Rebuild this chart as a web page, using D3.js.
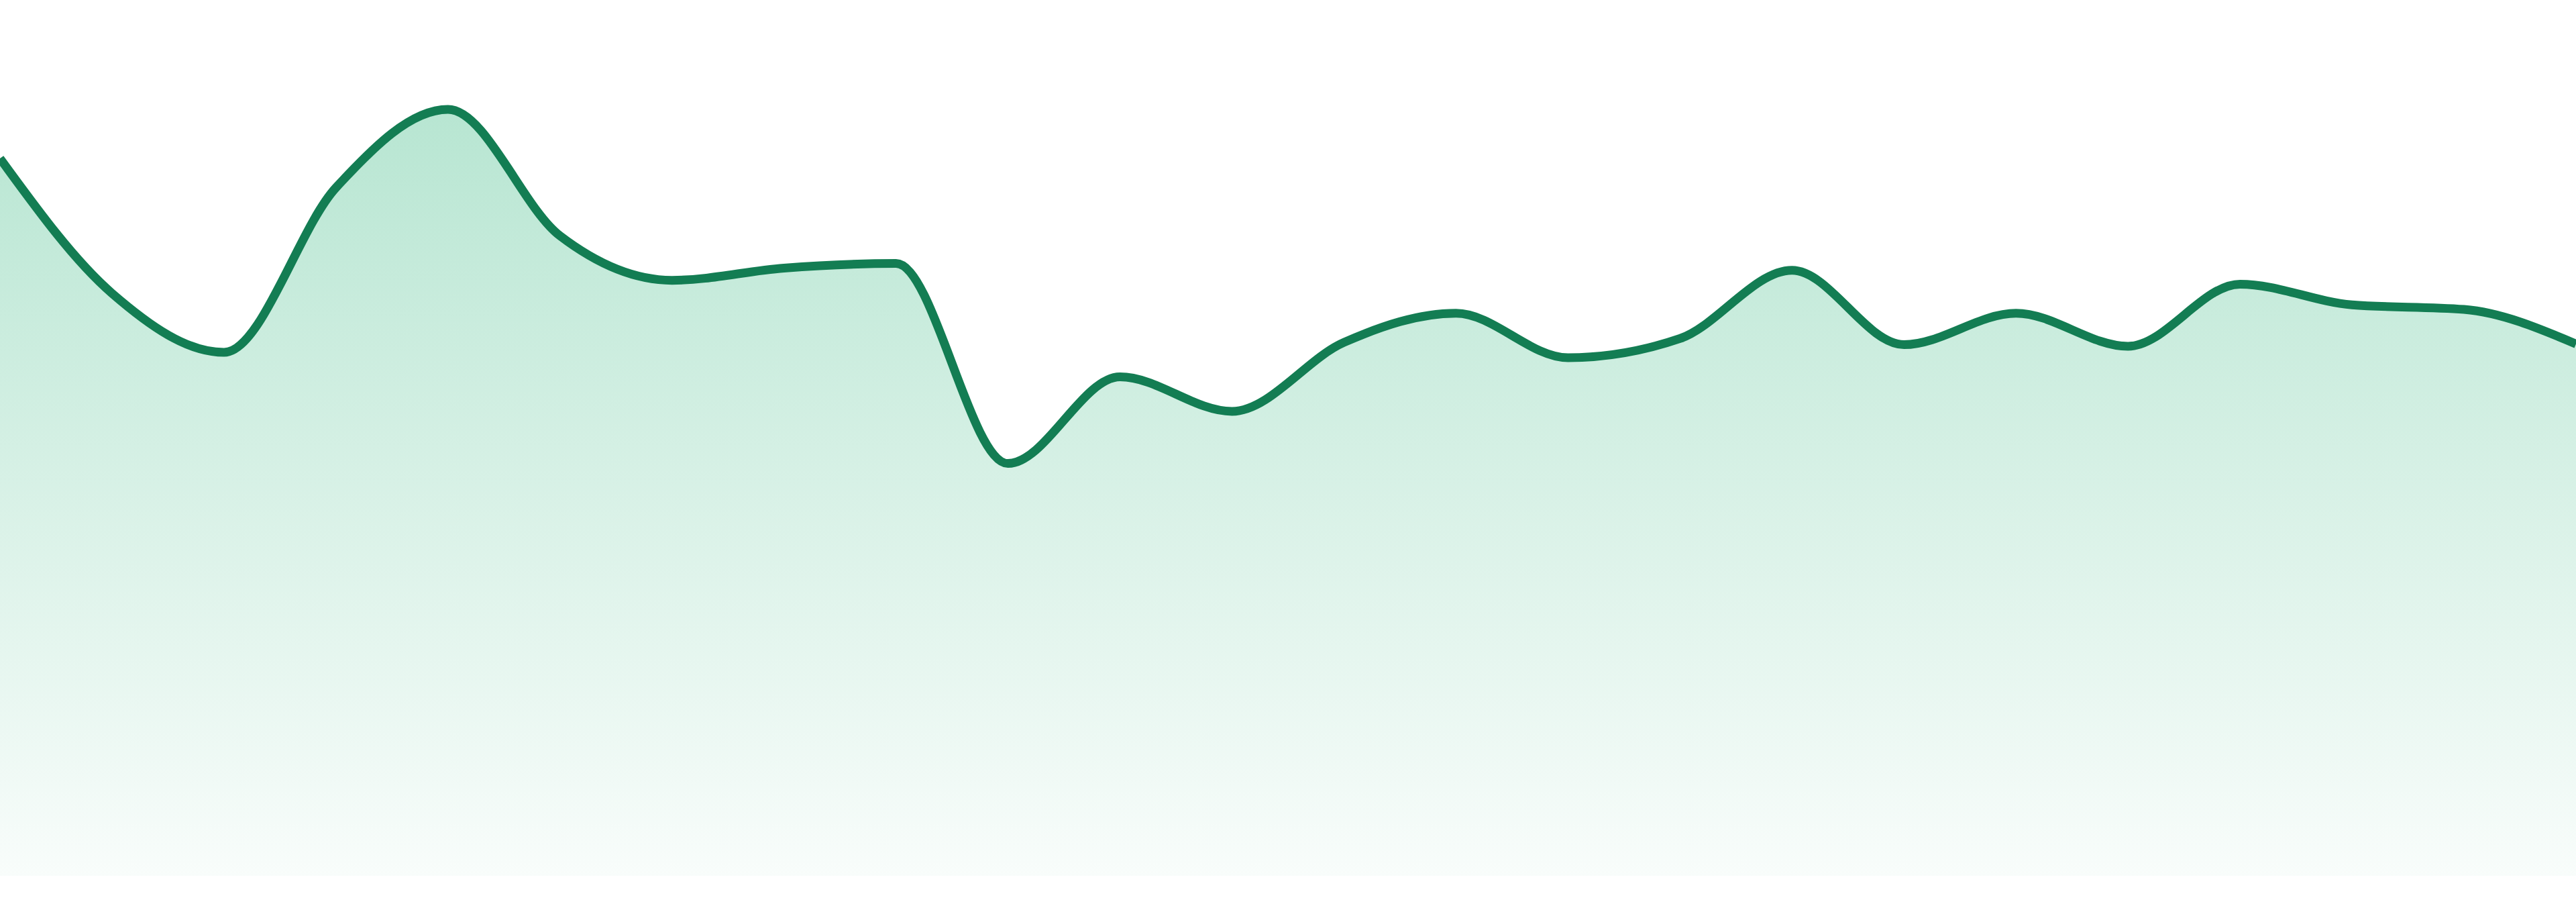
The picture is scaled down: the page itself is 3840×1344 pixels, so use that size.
<!DOCTYPE html>
<html>
<head>
<meta charset="utf-8">
<script src="https://cdn.jsdelivr.net/npm/d3@7"></script>
<style>
  html, body { margin: 0; padding: 0; background: #ffffff; }
  svg { display: block; }
</style>
</head>
<body>
<svg id="chart" width="3840" height="1344"></svg>
<script>
// Data (arbitrary units, no axes shown)
const categories = d3.range(24).map(i => "P" + (i + 1));
const values = [93.6, 76.0, 68.3, 89.8, 100.0, 83.5, 77.7, 79.3, 79.9, 53.8, 65.1, 60.6,
                 69.6, 73.4, 67.6, 70.1, 79.0, 69.3, 73.4, 69.1, 77.2, 74.5, 73.9, 69.4];
const yDomain = [0, 100];

const W = 3840, H = 1344;
const margin = { top: 163, right: 0, bottom: 39, left: 0 };

const svg = d3.select("#chart");

const x = d3.scalePoint()
  .domain(categories)
  .range([margin.left, W - margin.right]);

const y = d3.scaleLinear()
  .domain(yDomain)
  .range([H - margin.bottom, margin.top]);

const data = categories.map((c, i) => ({ c, v: values[i] }));

const defs = svg.append("defs");
const grad = defs.append("linearGradient")
  .attr("id", "areaGrad")
  .attr("x1", 0).attr("y1", 0).attr("x2", 0).attr("y2", 1);
grad.append("stop").attr("offset", "0%").attr("stop-color", "#26b276").attr("stop-opacity", 0.33);
grad.append("stop").attr("offset", "100%").attr("stop-color", "#26b276").attr("stop-opacity", 0.03);

const area = d3.area()
  .x(d => x(d.c))
  .y0(y(0))
  .y1(d => y(d.v))
  .curve(d3.curveMonotoneX);

const line = d3.line()
  .x(d => x(d.c))
  .y(d => y(d.v))
  .curve(d3.curveMonotoneX);

svg.append("path")
  .datum(data)
  .attr("d", area)
  .attr("fill", "url(#areaGrad)");

svg.append("path")
  .datum(data)
  .attr("d", line)
  .attr("fill", "none")
  .attr("stroke", "#137d53")
  .attr("stroke-width", 13)
  .attr("stroke-linejoin", "round");
</script>
</body>
</html>
